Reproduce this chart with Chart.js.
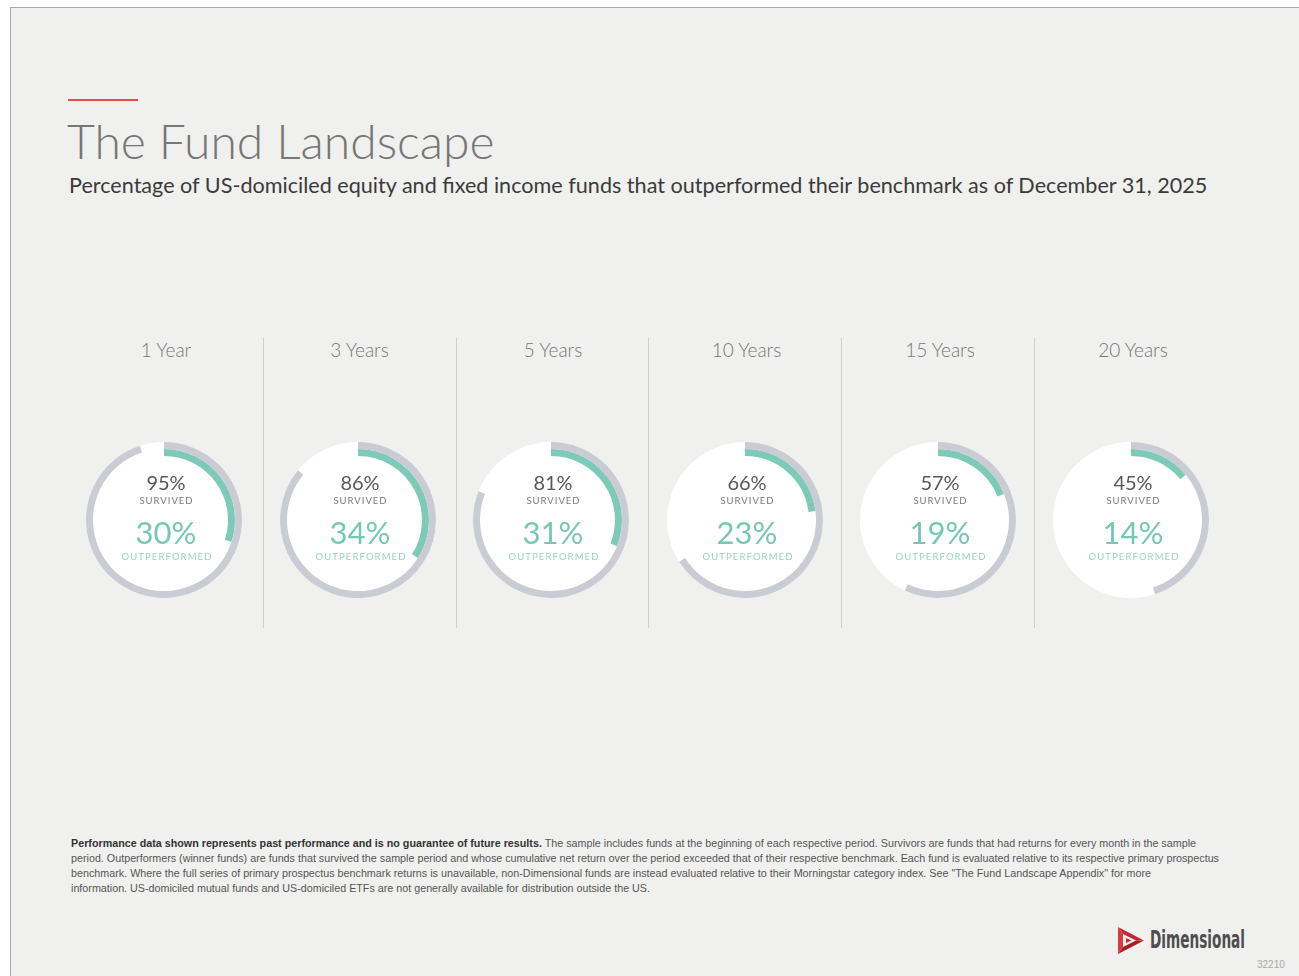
<!DOCTYPE html>
<html><head><meta charset="utf-8">
<script src="https://cdn.jsdelivr.net/npm/chart.js@4.4.1/dist/chart.umd.min.js"></script>
<style>
html,body{margin:0;padding:0;background:#fff;width:1299px;height:976px;overflow:hidden;font-family:Lato,"Open Sans",sans-serif;}
#slide{position:absolute;left:10px;top:7px;width:1300px;height:980px;background:#f0f0ef;border-left:1px solid #a9a9a9;border-top:1px solid #a9a9a9;}
.abs{position:absolute;white-space:nowrap;}
#redbar{left:68px;top:99px;width:70px;height:2px;background:#e2503d;}
#title{left:67px;top:117px;font-size:48px;line-height:48px;font-weight:300;color:#767676;}
#subtitle{left:69px;top:174px;font-size:21.6px;line-height:22px;font-weight:400;color:#3b3b3b;}
.period{top:340px;width:193px;text-align:center;font-size:19px;line-height:19px;color:#777;font-weight:300;}
.divider{top:338px;width:1px;height:290px;background:#cfcfcf;}
canvas.ring{position:absolute;}
#foot{left:71px;top:836px;font-family:"Liberation Sans",Arial,sans-serif;font-size:10.5px;line-height:15px;color:#555;}
#foot div{white-space:nowrap;transform-origin:0 0;width:max-content;}
#foot b{color:#333;}
#logoText{left:1150px;top:926px;font-family:"Liberation Sans Narrow","DejaVu Sans Condensed",sans-serif;font-weight:700;font-size:24px;line-height:28px;color:#4e4e4e;transform-origin:0 0;width:max-content;}
#code{left:1257px;top:959px;font-family:"Liberation Sans",Arial,sans-serif;font-size:10px;line-height:12px;color:#aaa;}
</style></head>
<body>
<div id="slide"></div>
<div class="abs" id="redbar"></div>
<div class="abs" id="title">The Fund Landscape</div>
<div class="abs" id="subtitle">Percentage of US-domiciled equity and fixed income funds that outperformed their benchmark as of December 31, 2025</div>
<div id="cols"></div>
<div class="abs" id="foot">
<div data-w="1125"><b>Performance data shown represents past performance and is no guarantee of future results.</b> The sample includes funds at the beginning of each respective period. Survivors are funds that had returns for every month in the sample</div>
<div data-w="1148">period. Outperformers (winner funds) are funds that survived the sample period and whose cumulative net return over the period exceeded that of their respective benchmark. Each fund is evaluated relative to its respective primary prospectus</div>
<div data-w="1080">benchmark. Where the full series of primary prospectus benchmark returns is unavailable, non-Dimensional funds are instead evaluated relative to their Morningstar category index. See "The Fund Landscape Appendix" for more</div>
<div data-w="579">information. US-domiciled mutual funds and US-domiciled ETFs are not generally available for distribution outside the US.</div>
</div>
<svg class="abs" style="left:1117px;top:926px" width="28" height="29" viewBox="0 0 28 29">
  <polygon points="1,1 27,14.5 19,14.5 6,8" fill="#c4282e"/>
  <polygon points="19,14.5 27,14.5 1,28 6,21" fill="#a31f25"/>
  <polygon points="1,1 6,8 6,21 1,28" fill="#d9393f"/>
  <polygon points="9,12 14.5,14.5 9,17" fill="#c4282e"/>
</svg>
<div class="abs" id="logoText">Dimensional</div>
<div class="abs" id="code">32210</div>
<script>
const periods = ['1 Year','3 Years','5 Years','10 Years','15 Years','20 Years'];
const survived = [95, 86, 81, 66, 57, 45];
const outperformed = [30, 34, 31, 23, 19, 14];

const GRAY = '#c9ccd2', TEAL = '#7ecab8', TEAL_TXT = '#76c7b3', TEAL_LIGHT = '#95d5c5';
const centersX = [164, 357.5, 551, 744.5, 938, 1131];
const dividersX = [263, 456, 648, 841, 1034];
const CY = 520;
const OUTER_R = 78, INNER_R = 64;

function fitScale(el, w){ const r = el.getBoundingClientRect().width; el.style.transform = 'scaleX(' + (w / r) + ')'; }
document.querySelectorAll('#foot div').forEach(d => fitScale(d, +d.dataset.w));
fitScale(document.getElementById('logoText'), 95);

const cols = document.getElementById('cols');
periods.forEach((p, i) => {
  const d = document.createElement('div');
  d.className = 'abs period'; d.style.left = (centersX[i] - 96.5 + 2) + 'px'; d.textContent = p;
  cols.appendChild(d);
});
dividersX.forEach(x => {
  const d = document.createElement('div');
  d.className = 'abs divider'; d.style.left = x + 'px';
  cols.appendChild(d);
});

const ringPlugin = {
  id: 'ringPlugin',
  beforeDatasetsDraw(chart) {
    const arc = chart.getDatasetMeta(0).data[0];
    const ctx = chart.ctx;
    ctx.save();
    ctx.beginPath(); ctx.arc(arc.x, arc.y, arc.outerRadius, 0, Math.PI * 2);
    ctx.fillStyle = '#ffffff'; ctx.fill();
    ctx.restore();
  },
  afterDatasetsDraw(chart, args, opts) {
    const arc = chart.getDatasetMeta(0).data[0];
    const ctx = chart.ctx, x = arc.x, y = arc.y, i = opts.idx;
    ctx.save();
    ctx.textAlign = 'center'; ctx.textBaseline = 'alphabetic';
    ctx.fillStyle = '#585858'; ctx.font = '400 20px Lato';
    ctx.fillText(survived[i] + '%', x + 2, y - 30);
    ctx.fillStyle = '#7a7a7a'; ctx.font = '400 9.5px Lato'; ctx.letterSpacing = '1px';
    ctx.fillText('SURVIVED', x + 2.5, y - 16.5);
    ctx.letterSpacing = '0px';
    ctx.fillStyle = TEAL_TXT; ctx.font = '400 31px Lato';
    ctx.fillText(outperformed[i] + '%', x + 2, y + 24);
    ctx.fillStyle = TEAL_LIGHT; ctx.font = '400 9.5px Lato'; ctx.letterSpacing = '1.1px';
    ctx.fillText('OUTPERFORMED', x + 3, y + 39.5);
    ctx.restore();
  }
};

periods.forEach((p, i) => {
  const c = document.createElement('canvas');
  c.className = 'ring'; c.width = 200; c.height = 200;
  c.style.left = (centersX[i] - 100) + 'px'; c.style.top = (CY - 100) + 'px';
  c.style.width = '200px'; c.style.height = '200px';
  document.body.appendChild(c);
  new Chart(c, {
    type: 'doughnut',
    data: {
      labels: ['a', 'b'],
      datasets: [
        { data: [survived[i], 100 - survived[i]], backgroundColor: [GRAY, 'rgba(0,0,0,0)'], borderWidth: 0, hoverOffset: 0 },
        { data: [outperformed[i], 100 - outperformed[i]], backgroundColor: [TEAL, 'rgba(0,0,0,0)'], borderWidth: 0, hoverOffset: 0 }
      ]
    },
    options: {
      responsive: false, animation: false, devicePixelRatio: 1, events: [],
      radius: OUTER_R, cutout: (INNER_R / OUTER_R * 100) + '%',
      layout: { padding: 0 },
      plugins: { legend: { display: false }, tooltip: { enabled: false }, ringPlugin: { idx: i } }
    },
    plugins: [ringPlugin]
  });
});
</script>
</body></html>
